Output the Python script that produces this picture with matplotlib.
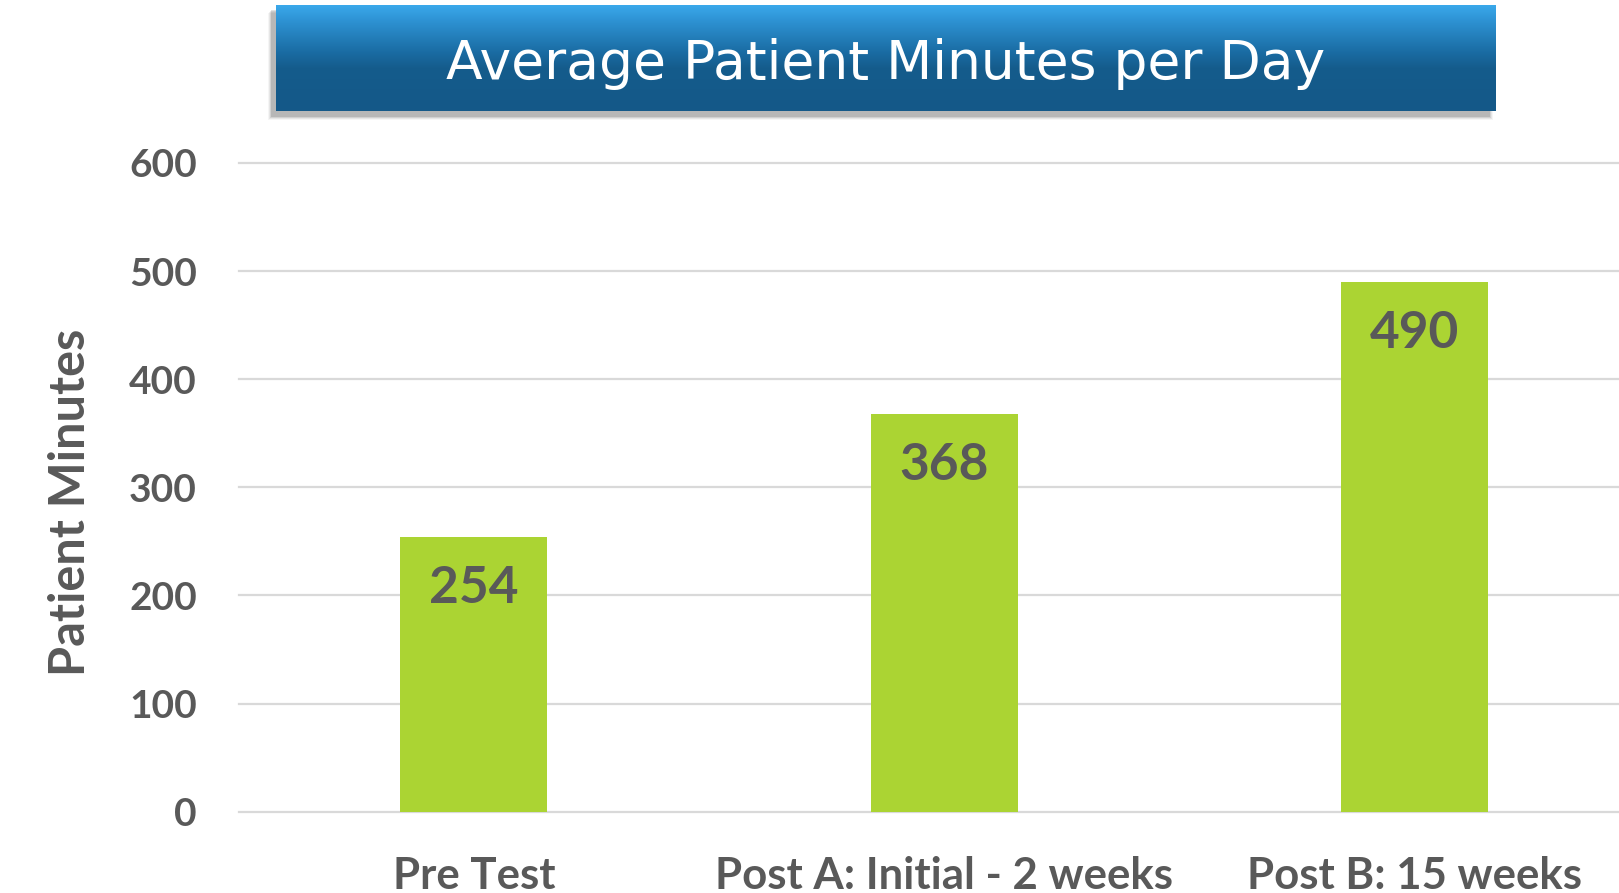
import numpy as np
import matplotlib
matplotlib.use("Agg")
import matplotlib.pyplot as plt
from matplotlib.colors import LinearSegmentedColormap
from matplotlib.patches import Rectangle

# ─────────────────────────────
# DATA
# ─────────────────────────────
categories = ["Pre Test", "Post A: Initial - 2 weeks", "Post B: 15 weeks"]
minutes = [254, 368, 490]
y_ticks = [0, 100, 200, 300, 400, 500, 600]
title = "Average Patient Minutes per Day"
y_label = "Patient Minutes"

BAR_COLOR = "#ABD433"
TEXT_GRAY = "#595959"
GRID_GRAY = "#D9D9D9"

W, H = 1619, 893
fig = plt.figure(figsize=(W / 100, H / 100), dpi=100)
fig.patch.set_facecolor("white")

# ─────────────────────────────
# MAIN BAR CHART
# ─────────────────────────────
ax = fig.add_axes([238.5 / W, 1 - 811.6 / H, 1 - 238.5 / W, (811.6 - 163) / H])
x = np.arange(len(categories))
ax.bar(x, minutes, width=0.3125, color=BAR_COLOR, zorder=3)

for xi, v in zip(x, minutes):
    ax.annotate(str(v), (xi, v), xytext=(0, -37), textcoords="offset points",
                ha="center", va="center", fontsize=37, fontweight="bold",
                family=["Lato", "DejaVu Sans"], color=TEXT_GRAY, zorder=4)

ax.set_xlim(-0.5, 2.434)
ax.set_ylim(0, 600)
ax.set_yticks(y_ticks)
ax.set_yticklabels([str(t) for t in y_ticks], fontsize=28, fontweight="bold",
                   family=["Lato", "DejaVu Sans"], color=TEXT_GRAY)
ax.set_xticks(x)
ax.set_xticklabels(categories, fontsize=31.5, fontweight="bold",
                   family=["Lato", "DejaVu Sans"], color=TEXT_GRAY)
ax.tick_params(axis="y", length=0, pad=30)
ax.tick_params(axis="x", length=0, pad=32)
ax.grid(axis="y", color=GRID_GRAY, linewidth=1.6, zorder=0)
for gl in ax.get_ygridlines():
    gl.set_clip_on(False)
for s in ax.spines.values():
    s.set_visible(False)

fig.text(71 / W, 1 - 502 / H, y_label, rotation=90, ha="center", va="center",
         fontsize=35, fontweight="bold", family=["Lato", "DejaVu Sans"],
         color=TEXT_GRAY)

# ─────────────────────────────
# TITLE BANNER
# ─────────────────────────────
bx0, bx1, by0, by1 = 276, 1495, 5, 111.5
# soft shadow, down and to the left
for i, a in enumerate([0.12, 0.09, 0.06, 0.04]):
    fig.patches.append(Rectangle(((bx0 - 5 - i) / W, 1 - (by1 + 5 + i) / H),
                                 (bx1 - bx0 + 2 * i) / W, (by1 - by0) / H,
                                 transform=fig.transFigure, facecolor="black",
                                 alpha=a, edgecolor="none", zorder=1))

tax = fig.add_axes([bx0 / W, 1 - by1 / H, (bx1 - bx0) / W, (by1 - by0) / H], zorder=5)
cmap = LinearSegmentedColormap.from_list(
    "banner", [(0.0, "#3BAAEC"), (0.15, "#2E93D4"), (0.45, "#1A6CA3"),
               (0.6, "#155C8C"), (1.0, "#145888")])
grad = np.linspace(0, 1, 256).reshape(-1, 1)
tax.imshow(grad, aspect="auto", cmap=cmap, extent=[0, 1, 0, 1], origin="upper")
tax.set_xlim(0, 1)
tax.set_ylim(0, 1)
tax.axis("off")
tax.text(0.5, 0.45, title, ha="center", va="center", color="white",
         fontsize=38.5, family=["DejaVu Sans"])

fig.savefig("out.png", dpi=100, facecolor="white")
